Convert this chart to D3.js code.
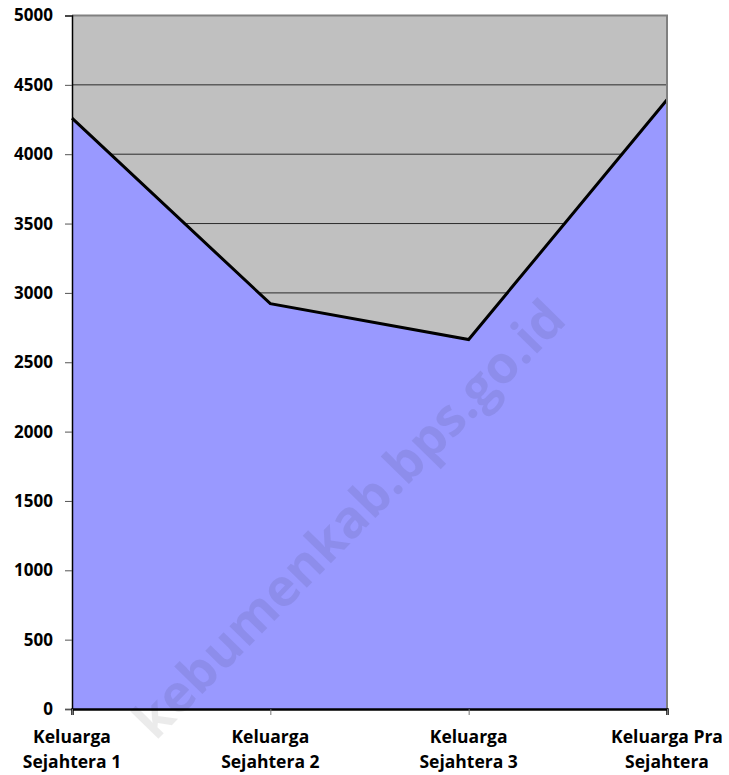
<!DOCTYPE html>
<html lang="en">
<head>
<meta charset="UTF-8">
<title>Keluarga Sejahtera</title>
<script src="https://d3js.org/d3.v7.min.js"></script>
<style>
  body { margin: 0; background: #fff; }
  text { font-family: "Open Sans", "Liberation Sans", sans-serif; font-weight: bold; }
</style>
</head>
<body>
<svg id="chart" width="729" height="775"></svg>
<script>
// data
const categories = [["Keluarga", "Sejahtera 1"], ["Keluarga", "Sejahtera 2"], ["Keluarga", "Sejahtera 3"], ["Keluarga Pra", "Sejahtera"]];
const values = [4260, 2922, 2664, 4392];
const yTicks = [0, 500, 1000, 1500, 2000, 2500, 3000, 3500, 4000, 4500, 5000];

const margin = {top: 15.5, right: 62, bottom: 66, left: 72};
const width = 729 - margin.left - margin.right;
const height = 775 - margin.top - margin.bottom;

const svg = d3.select("#chart");
const g = svg.append("g").attr("transform", `translate(${margin.left},${margin.top})`);

const x = d3.scalePoint().domain(d3.range(categories.length)).range([0, width]);
const y = d3.scaleLinear().domain([0, 5000]).range([height, 0]);

// grey plot background
g.append("rect").attr("width", width).attr("height", height).attr("fill", "#c0c0c0");

// gridlines
g.selectAll(".grid").data(yTicks.filter(d => d > 0 && d < 5000)).enter().append("line")
  .attr("x1", 0).attr("x2", width)
  .attr("y1", d => y(d)).attr("y2", d => y(d))
  .attr("stroke", "#2b2b2b").attr("stroke-width", 1);

// area
const area = d3.area().x((d, i) => x(i)).y0(height).y1(d => y(d));
g.append("path").datum(values).attr("d", area).attr("fill", "#9999ff");

const line = d3.line().x((d, i) => x(i)).y(d => y(d));
g.append("path").datum(values).attr("d", line)
  .attr("fill", "none").attr("stroke", "#000").attr("stroke-width", 3).attr("stroke-linejoin", "miter");

// plot border (top/right)
g.append("path").attr("d", `M0,0H${width}V${height}`).attr("fill", "none").attr("stroke", "#808080").attr("stroke-width", 2);

// y axis
const yAxis = g.append("g").call(d3.axisLeft(y).tickValues(yTicks).tickFormat(d3.format("d")).tickSize(7).tickPadding(12));
yAxis.select(".domain").attr("stroke", "#000").attr("stroke-width", 1.5);
yAxis.selectAll(".tick line").attr("stroke", "#555");
yAxis.selectAll("text").attr("font-size", 17).attr("fill", "#000").attr("font-family", null);

// x axis
const xAxis = g.append("g").attr("transform", `translate(0,${height})`)
  .call(d3.axisBottom(x).tickSize(6).tickFormat(""));
xAxis.select(".domain").attr("stroke", "#000").attr("stroke-width", 2.5);
xAxis.selectAll(".tick line").attr("stroke", "#777");

const xl = g.selectAll(".xlab").data(categories).enter().append("text")
  .attr("text-anchor", "middle").attr("font-size", 17.5).attr("fill", "#000")
  .attr("transform", (d, i) => `translate(${x(i)},${height + 34})`);
xl.append("tspan").attr("x", 0).attr("y", 0).text(d => d[0]);
xl.append("tspan").attr("x", 0).attr("y", 25).text(d => d[1]);

// watermark
svg.append("text").attr("transform", "translate(352,522) rotate(-45.5)")
  .attr("text-anchor", "middle").attr("dominant-baseline", "middle")
  .attr("font-size", 52).attr("fill", "#000").attr("fill-opacity", 0.08)
  .text("kebumenkab.bps.go.id");
</script>
</body>
</html>
